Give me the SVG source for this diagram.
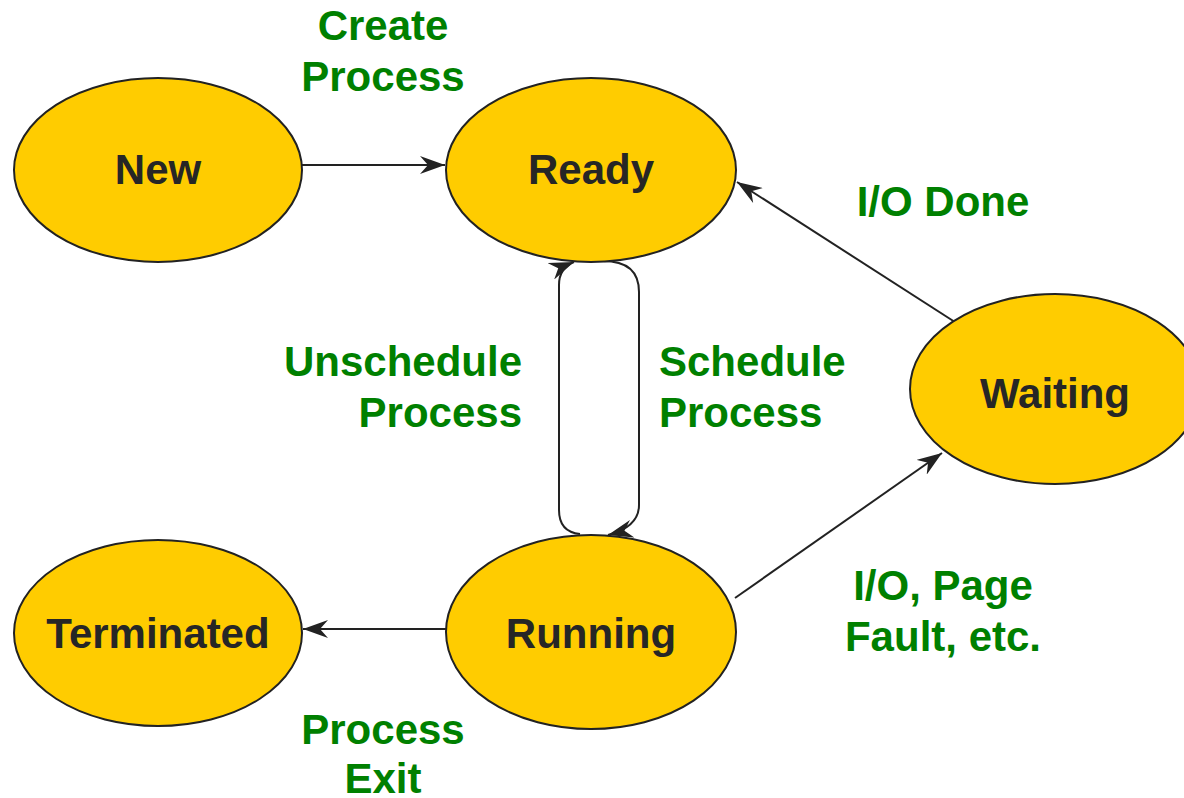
<svg xmlns="http://www.w3.org/2000/svg" width="1184" height="798" viewBox="0 0 1184 798">
<style>
.node ellipse{fill:#FFCC00;stroke:#222;stroke-width:2}
.node text{font-family:"Liberation Sans",Arial,sans-serif;font-weight:bold;font-size:42px;fill:#262626;text-anchor:middle}
.lbl{font-family:"Liberation Sans",Arial,sans-serif;font-weight:bold;font-size:42px;fill:#008000}
.edge{fill:none;stroke:#222;stroke-width:2;marker-end:url(#arr)}
</style>
<defs>
<marker id="arr" markerUnits="userSpaceOnUse" markerWidth="26" markerHeight="18" refX="25" refY="9" orient="auto">
<path d="M0,0 L25,9 L0,18 L8,9 Z" fill="#222"/>
</marker>
</defs>
<rect width="1184" height="798" fill="#fff"/>
<g id="connectors">
<line class="edge" x1="302" y1="165" x2="445" y2="165"/>
<line class="edge" x1="446" y1="629" x2="303" y2="629"/>
<line class="edge" x1="958" y1="324" x2="737" y2="182"/>
<line class="edge" x1="735" y1="598" x2="942" y2="453"/>
<path class="edge" d="M603,261 Q639,261 639,292 L639,505 Q639,527 608,535"/>
<path class="edge" d="M580,534 Q559,532 559,510 L559,285 Q559,268 574,262"/>
</g>
<g id="labels">
<text class="lbl" x="383" y="40" text-anchor="middle">Create</text>
<text class="lbl" x="383" y="91" text-anchor="middle">Process</text>
<text class="lbl" x="943" y="216" text-anchor="middle">I/O Done</text>
<text class="lbl" x="522" y="376" text-anchor="end">Unschedule</text>
<text class="lbl" x="522" y="427" text-anchor="end">Process</text>
<text class="lbl" x="659" y="376">Schedule</text>
<text class="lbl" x="659" y="427">Process</text>
<text class="lbl" x="943" y="600" text-anchor="middle">I/O, Page</text>
<text class="lbl" x="943" y="651" text-anchor="middle">Fault, etc.</text>
<text class="lbl" x="383" y="744" text-anchor="middle">Process</text>
<text class="lbl" x="383" y="793" text-anchor="middle">Exit</text>
</g>
<g id="new" class="node"><ellipse cx="158" cy="170" rx="144" ry="92"/><text x="158" y="184">New</text></g>
<g id="ready" class="node"><ellipse cx="591" cy="170" rx="145" ry="92"/><text x="591" y="184">Ready</text></g>
<g id="waiting" class="node"><ellipse cx="1055" cy="389" rx="145" ry="95"/><text x="1055" y="408">Waiting</text></g>
<g id="running" class="node"><ellipse cx="591" cy="632" rx="145" ry="97"/><text x="591" y="648">Running</text></g>
<g id="terminated" class="node"><ellipse cx="158" cy="633" rx="144" ry="93"/><text x="158" y="648">Terminated</text></g>
</svg>
